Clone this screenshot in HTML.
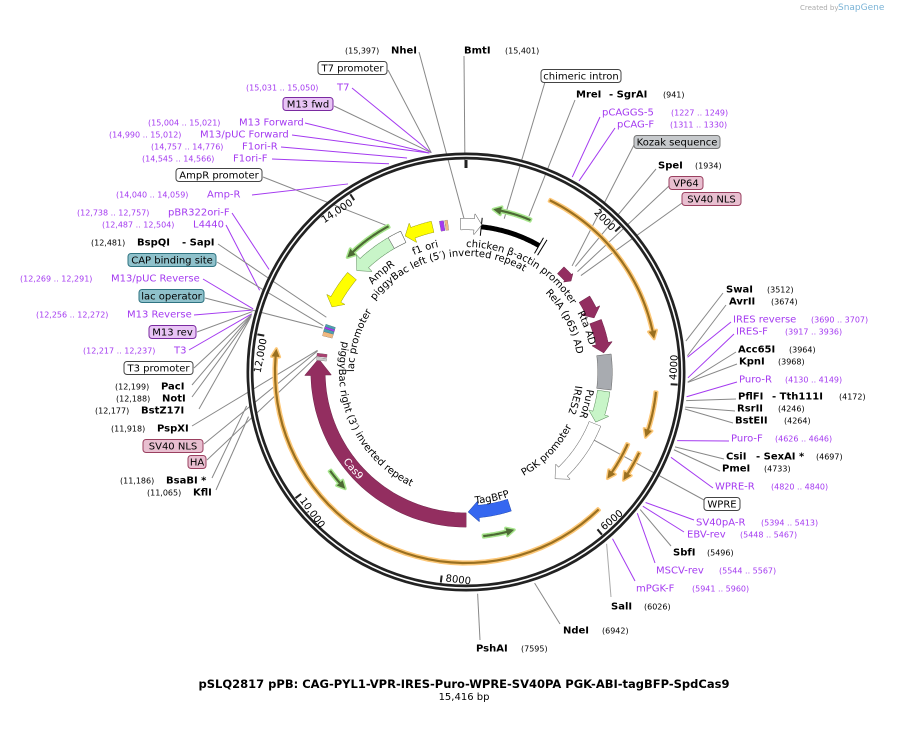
<!DOCTYPE html>
<html><head><meta charset="utf-8">
<style>
body{margin:0;background:#fff;}
svg{display:block;font-family:"DejaVu Sans","Liberation Sans",sans-serif;}
.n{font-size:10px;fill:#000;}
.b{font-size:10px;font-weight:bold;fill:#000;}
.c{font-size:8px;fill:#000;}
.p{font-size:10px;fill:#a43af0;}
.pc{font-size:8px;fill:#a43af0;}
.f{font-size:10px;fill:#000;}
</style></head>
<body>
<svg id="s" width="897" height="732" viewBox="0 0 897 732" xmlns="http://www.w3.org/2000/svg">
<text x="800" y="10" style="font-size:7px;fill:#aaa">Created by</text>
<text x="838" y="10" style="font-size:9px;fill:#7ab3d6">SnapGene</text>
<g id="lines"></g>
<g id="ring"></g>
<g id="feat"></g>
<g id="txt"></g>
<text x="464" y="688" text-anchor="middle" style="font-size:11.5px;font-weight:bold">pSLQ2817 pPB: CAG-PYL1-VPR-IRES-Puro-WPRE-SV40PA PGK-ABI-tagBFP-SpdCas9</text>
<text x="464" y="700" text-anchor="middle" style="font-size:10px">15,416 bp</text>
</svg>
<script>
const NS="http://www.w3.org/2000/svg",CX=466,CY=372,TOT=15416;
const $=id=>document.getElementById(id);
function el(p,t,a,txt){const e=document.createElementNS(NS,t);for(const k in a)e.setAttribute(k,a[k]);if(txt!==undefined)e.textContent=txt;$(p).appendChild(e);return e;}
function P(r,a){a=a*Math.PI/180;return [CX+r*Math.sin(a),CY-r*Math.cos(a)];}
function bp(b){return b/TOT*360;}
function arcD(r,a0,a1){const n=40;let d="";for(let i=0;i<=n;i++){const p=P(r,a0+(a1-a0)*i/n);d+=(i?"L":"M")+p[0].toFixed(1)+" "+p[1].toFixed(1);}return d;}
function band(g,rc,w,a0,a1,headPx,hw,fill,stroke,sw){
 const dir=Math.sign(a1-a0);const hd=headPx/rc*180/Math.PI;let ab=headPx?a1-dir*hd:a1;
 const pts=[],n=40;
 for(let i=0;i<=n;i++)pts.push(P(rc+w/2,a0+(ab-a0)*i/n));
 if(headPx){pts.push(P(rc+hw/2,ab));pts.push(P(rc,a1));pts.push(P(rc-hw/2,ab));}
 for(let i=n;i>=0;i--)pts.push(P(rc-w/2,a0+(ab-a0)*i/n));
 el(g,"polygon",{points:pts.map(p=>p[0].toFixed(1)+","+p[1].toFixed(1)).join(" "),fill:fill,stroke:stroke||"none","stroke-width":sw||1,"stroke-linejoin":"round","paint-order":"stroke"});
}
el("ring","circle",{cx:CX,cy:CY,r:216,fill:"none",stroke:"#222","stroke-width":7});
el("ring","circle",{cx:CX,cy:CY,r:216,fill:"none",stroke:"#fff","stroke-width":1.6});
el("ring","line",{x1:P(212,0)[0],y1:P(212,0)[1],x2:P(204,0)[0],y2:P(204,0)[1],stroke:"#222","stroke-width":3});
[[2000,"2000"],[4000,"4000"],[6000,"6000"],[8000,"8000"],[10000,"10,000"],[12000,"12,000"],[14000,"14,000"]].forEach(([b,t])=>{
 const a=bp(b);const p1=P(212,a),p2=P(205,a);
 el("ring","line",{x1:p1[0],y1:p1[1],x2:p2[0],y2:p2[1],stroke:"#222","stroke-width":2});
 const top=(a<90||a>270);
 if(top){const q=P(202,a-0.8);el("txt","text",{x:q[0],y:q[1],"text-anchor":"end",transform:`rotate(${a} ${q[0]} ${q[1]})`,class:"n"},t);}
 else{const q=P(204,a-1.2);el("txt","text",{x:q[0],y:q[1],"text-anchor":"start","dominant-baseline":"hanging",transform:`rotate(${a-180} ${q[0]} ${q[1]})`,class:"n"},t);}
});
const OF="#9a7020",OS="#fdc878";
band("feat",191,2.2,26,80,8,8,OF,OS,3);
band("feat",191,2.2,96,110,8,8,OF,OS,3);
band("feat",177,2.2,114,127,8,8,OF,OS,3);
band("feat",191,2.2,115,124.5,8,8,OF,OS,3);
band("feat",191,2.2,136,277,8,8,OF,OS,3);
const GF="#4d6a35",GS="#a6e58c";
band("feat",165,2.2,23,9.5,8,8,GF,GS,3);
band("feat",165,2.2,332,314,8,8,GF,GS,3);
band("feat",168,2.2,234,226,8,8,GF,GS,3);
band("feat",165,2.2,174,163,8,8,GF,GS,3);
el("feat","path",{d:arcD(146,6,30),fill:"none",stroke:"#000","stroke-width":5});
[[6],[30],[31.5]].forEach(([a])=>{const p1=P(137,a),p2=P(155,a);el("feat","line",{x1:p1[0],y1:p1[1],x2:p2[0],y2:p2[1],stroke:"#000","stroke-width":1});});
band("feat",148,11,-2,6,7,20,"#fff","#555",1);
band("feat",148,14,180,275,16,26,"#932e60","#6a2045",0.8);
band("feat",140,12,162,179,10,20,"#3567f0","#1a3fa0",0.8);
band("feat",139,12,112,140,10,20,"#fff","#666",1);
band("feat",139,12,98,111,9,20,"#c8f5c8","#5a8a5a",1);
band("feat",139,14,83,97,0,0,"#a8abb0","#666",1);
band("feat",139,12,58.5,67,8,20,"#932e60","#6a2045",0.8);
band("feat",139,12,68.8,82,9,20,"#932e60","#6a2045",0.8);
band("feat",139,9,43,49,4,12,"#932e60","#6a2045",0.8);
band("feat",149,11,347,336,8,20,"#ffff00","#888800",0.8);
band("feat",149,12,335,313,10,22,"#c8f5c8","#5a8a5a",1);
band("feat",149,12,335,330,0,0,"#fff","#555",1);
band("feat",149,11,310,296,8,20,"#ffff00","#888800",0.8);
[["#4aa0b0",288],["#a43af0",287],["#4aa0b0",286.2],["#f0b880",285]].forEach(([c,a])=>band("feat",143,10,a-0.8,a+0.8,0,0,c,"#555",0.5));
band("feat",145,10,276,277.2,0,0,"#a84070","#555",0.5);
band("feat",145,10,274.5,275.5,0,0,"#ccc","#555",0.5);
band("feat",148,10,350,351.5,0,0,"#a43af0","#555",0.5);
band("feat",148,10,352,353,0,0,"#f0b880","#555",0.5);
let pid=0;
function tp(r,a0,a1,txt,cls,fill){const id="tp"+(pid++);el("txt","path",{id:id,d:arcD(r,a0,a1),fill:"none"});const t=el("txt","text",{class:cls||"f",style:fill?"fill:"+fill:""});const q=document.createElementNS(NS,"textPath");q.setAttribute("href","#"+id);q.textContent=txt;t.appendChild(q);}
tp(125,0,70,"chicken β-actin promoter");
tp(116,308,400,"piggyBac left (5′) inverted repeat");
tp(128,336,360,"f1 ori");
tp(128,313,335,"AmpR");
tp(112,270,310,"lac promoter");
tp(126,62,95,"Rta AD");
tp(112,45,100,"RelA (p65) AD");
tp(110,97,130,"IRES2");
tp(122,98,120,"PuroR");
tp(119,151,110,"PGK promoter");
tp(127,284,190,"piggyBac right (3′) inverted repeat");
tp(152,234,190,"Cas9","f","#fff");
tp(132,176,150,"TagBFP");
function T(x,y,t,c){el("txt","text",{x:x,y:y+3.5,class:c},t);}
function B(x1,x2,y,t,f,s){el("txt","rect",{x:x1,y:y-6.5,width:x2-x1,height:13,rx:3,fill:f,stroke:s,"stroke-width":1});el("txt","text",{x:(x1+x2)/2,y:y+3.5,"text-anchor":"middle",class:"n"},t);}
function L(x,y,a,col,r){const p=P(r||222,a);el("lines","line",{x1:x,y1:y,x2:p[0],y2:p[1],stroke:col||"#888","stroke-width":1});}
const PU="#a43af0",GR="#888";
T(345,50,"(15,397)","c");T(391,50,"NheI","b");L(419,52,359.6,GR,150);
B(318,387,68,"T7 promoter","#fff","#444");L(388,70,351,GR);
T(246,87,"(15,031 .. 15,050)","pc");T(337,87,"T7","p");L(352,88,351,PU);
B(283,333,104,"M13 fwd","#e8c4f5","#7a2aa0");L(334,106,351,GR);
T(148,122,"(15,004 .. 15,021)","pc");T(239,122,"M13 Forward","p");L(305,123,350.5,PU);
T(109,134,"(14,990 .. 15,012)","pc");T(200,134,"M13/pUC Forward","p");L(292,135,350.5,PU);
T(151,146,"(14,757 .. 14,776)","pc");T(242,146,"F1ori-R","p");L(281,147,344.6,PU);
T(142,158,"(14,545 .. 14,566)","pc");T(233,158,"F1ori-F","p");L(272,159,339.7,PU);
B(176,262,175,"AmpR promoter","#fff","#444");L(263,177,332,GR,165);
T(116,194,"(14,040 .. 14,059)","pc");T(207,194,"Amp-R","p");L(252,195,327.9,PU);
T(77,212,"(12,738 .. 12,757)","pc");T(168,212,"pBR322ori-F","p");L(232,213,297.5,PU);
T(102,224,"(12,487 .. 12,504)","pc");T(193,224,"L4440","p");L(226,225,291.6,PU);
T(91,242,"(12,481)","c");T(137,242,"BspQI","b");T(182,242,"- SapI","b");L(218,244,291.4,GR,150);
B(128,216,260,"CAP binding site","#8fc1cb","#2f7482");L(217,262,288,GR,150);
T(20,278,"(12,269 .. 12,291)","pc");T(111,278,"M13/pUC Reverse","p");L(203,279,286.5,PU);
B(139,204,296,"lac operator","#8fc1cb","#2f7482");L(205,298,287,GR,150);
T(36,314,"(12,256 .. 12,272)","pc");T(127,314,"M13 Reverse","p");L(194,315,286.2,PU);
B(149,196,332,"M13 rev","#e8c4f5","#7a2aa0");L(197,332,285.8,GR);
T(83,350,"(12,217 .. 12,237)","pc");T(174,350,"T3","p");L(189,350,285.2,PU);
B(124,193,368,"T3 promoter","#fff","#444");L(194,368,285,GR);
T(115,386,"(12,199)","c");T(161,386,"PacI","b");L(192,385,284.9,GR);
T(116,398,"(12,188)","c");T(162,398,"NotI","b");L(192,397,284.6,GR);
T(95,410,"(12,177)","c");T(141,410,"BstZ17I","b");L(199,409,284.4,GR);
T(111,428,"(11,918)","c");T(157,428,"PspXI","b");L(192,426,278.3,GR,150);
B(143,203,446,"SV40 NLS","#e8bfd0","#9a4060");L(204,444,278,GR,150);
B(188,206,462,"HA","#e8bfd0","#9a4060");L(207,460,276,GR,150);
T(120,480,"(11,186)","c");T(166,480,"BsaBI *","b");L(212,478,261.2,GR);
T(147,492,"(11,065)","c");T(193,492,"KflI","b");L(216,490,258.4,GR);
T(464,50,"BmtI","b");T(505,50,"(15,401)","c");L(464,56,359.7,GR,212);
B(541,621,76,"chimeric intron","#fff","#444");L(545,82,14,GR,158);
T(576,94,"MreI","b");T(609,94,"- SgrAI","b");T(663,94,"(941)","c");L(575,100,22,GR,168);
T(602,112,"pCAGGS-5","p");T(671,112,"(1227 .. 1249)","pc");L(600,117,28.6,PU);
T(617,124,"pCAG-F","p");T(670,124,"(1311 .. 1330)","pc");L(615,128,30.6,PU);
B(634,720,142,"Kozak sequence","#c6c9cc","#777");L(634,145,45,GR,150);
T(658,165,"SpeI","b");T(695,165,"(1934)","c");L(656,169,46,GR,152);
B(669,703,183,"VP64","#e8bfd0","#9a4060");L(669,186,48,GR,150);
B(682,741,199,"SV40 NLS","#e8bfd0","#9a4060");L(682,203,50,GR,150);
T(726,289,"SwaI","b");T(767,289,"(3512)","c");L(723,293,82,GR);
T(729,301,"AvrII","b");T(771,301,"(3674)","c");L(726,305,85.8,GR);
T(733,319,"IRES reverse","p");T(811,319,"(3690 .. 3707)","pc");L(731,322,86.2,PU);
T(736,331,"IRES-F","p");T(785,331,"(3917 .. 3936)","pc");L(734,334,91.5,PU);
T(738,349,"Acc65I","b");T(789,349,"(3964)","c");L(736,352,92.6,GR);
T(739,361,"KpnI","b");T(778,361,"(3968)","c");L(737,364,92.7,GR);
T(739,379,"Puro-R","p");T(785,379,"(4130 .. 4149)","pc");L(737,382,96.4,PU);
T(738,396,"PflFI","b");T(772,396,"- Tth111I","b");T(839,396,"(4172)","c");L(736,399,97.4,GR);
T(737,408,"RsrII","b");T(778,408,"(4246)","c");L(735,411,99.1,GR);
T(735,420,"BstEII","b");T(784,420,"(4264)","c");L(733,423,99.6,GR);
T(731,438,"Puro-F","p");T(775,438,"(4626 .. 4646)","pc");L(729,441,108,PU);
T(726,456,"CsiI","b");T(756,456,"- SexAI *","b");T(816,456,"(4697)","c");L(724,459,109.7,GR);
T(722,468,"PmeI","b");T(764,468,"(4733)","c");L(720,471,110.5,GR);
T(715,486,"WPRE-R","p");T(771,486,"(4820 .. 4840)","pc");L(713,488,112.6,PU);
B(704,740,504,"WPRE","#fff","#444");L(704,500,118,GR,140);
T(696,522,"SV40pA-R","p");T(761,522,"(5394 .. 5413)","pc");L(694,520,126,PU);
T(687,534,"EBV-rev","p");T(740,534,"(5448 .. 5467)","pc");L(684,532,127.2,PU);
T(673,552,"SbfI","b");T(707,552,"(5496)","c");L(671,546,128.3,GR);
T(656,570,"MSCV-rev","p");T(719,570,"(5544 .. 5567)","pc");L(655,563,129.5,PU);
T(636,588,"mPGK-F","p");T(692,588,"(5941 .. 5960)","pc");L(635,581,138.7,PU);
T(611,606,"SalI","b");T(644,606,"(6026)","c");L(611,597,140.7,"#aaa");
T(563,630,"NdeI","b");T(602,630,"(6942)","c");L(560,624,162,GR);
T(476,648,"PshAI","b");T(521,648,"(7595)","c");L(480,640,177,GR);
</script>
</body></html>
